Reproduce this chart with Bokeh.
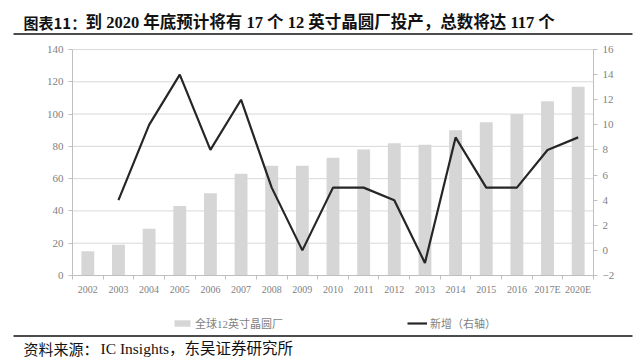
from bokeh.plotting import figure
from bokeh.models import (Range1d, LinearAxis, FixedTicker, Legend, LegendItem,
                          Label, ColumnDataSource, BoxAnnotation)
from bokeh.embed import file_html
from bokeh.resources import INLINE

# ---------------- data ----------------
years = ["2002", "2003", "2004", "2005", "2006", "2007", "2008", "2009", "2010",
         "2011", "2012", "2013", "2014", "2015", "2016", "2017E", "2020E"]
fabs_total = [15, 19, 29, 43, 51, 63, 68, 68, 73, 78, 82, 81, 90, 95, 100, 108, 117]
new_years = years[1:]
new_fabs = [4, 10, 14, 8, 12, 5, 0, 5, 5, 4, -1, 9, 5, 5, 8, 9]
left_ticks = [0, 20, 40, 60, 80, 100, 120, 140]
right_ticks = [-2, 0, 2, 4, 6, 8, 10, 12, 14, 16]
legend_labels = ["全球12英寸晶圆厂", "新增（右轴）"]
title_head = "图表11："
title_body = "到 2020 年底预计将有 17 个 12 英寸晶圆厂投产，总数将达 117 个"
source_head = "资料来源："
source_body = "IC Insights，东吴证券研究所"

SERIF_CJK = "Liberation Serif, Noto Sans CJK SC"
SANS_CJK = "Noto Sans CJK SC"
GRAY_TXT = "#7f7f7f"
AXIS_C = "#bfbfbf"

# ---------------- geometry (page px) ----------------
W, H = 640, 362
PL, PR, PT, PB = 72, 593, 49, 275        # plot area edges
n = len(years)
x_lo, x_hi = -0.5, n - 0.5
sx = (PR - PL) / (x_hi - x_lo)
l_lo, l_hi = left_ticks[0], left_ticks[-1]
r_lo, r_hi = right_ticks[0], right_ticks[-1]
sl = (PB - PT) / (l_hi - l_lo)
sr = (PB - PT) / (r_hi - r_lo)

x_range = Range1d(x_lo - PL / sx, x_hi + (W - PR) / sx)
y_range = Range1d(l_lo - (H - PB) / sl, l_hi + PT / sl)
r_range = Range1d(r_lo - (H - PB) / sr, r_hi + PT / sr)

xs = list(range(n))
new_xs = [years.index(y) for y in new_years]
bar_src = ColumnDataSource(dict(x=xs, top=fabs_total, year=years))
line_src = ColumnDataSource(dict(x=new_xs, y=new_fabs, year=new_years))

p = figure(width=W, height=H, x_range=x_range, y_range=y_range,
           toolbar_location=None, output_backend="svg", min_border=0,
           x_axis_type=None, y_axis_type=None)
p.outline_line_color = None
p.extra_y_ranges = {"right": r_range}

# horizontal grid lines at the left-axis ticks, limited to the plot area
grid_y = left_ticks[1:]
p.segment(x0=[x_lo] * len(grid_y), x1=[x_hi] * len(grid_y), y0=grid_y, y1=grid_y,
          line_color="#d9d9d9", line_width=1, level="underlay")

bars = p.vbar(x="x", top="top", width=0.42, source=bar_src,
              fill_color="#d6d6d6", line_color=None)
line = p.line(x="x", y="y", source=line_src, y_range_name="right",
              line_color="#262626", line_width=2.2)

# axes (fixed at the plot-area edges)
xticker = FixedTicker(ticks=xs, minor_ticks=[i - 0.5 for i in range(n + 1)])
xaxis = LinearAxis(ticker=xticker, fixed_location=l_lo, bounds=(x_lo, x_hi),
                   major_label_overrides={i: y for i, y in enumerate(years)})
xaxis.major_tick_line_color = None
xaxis.minor_tick_in = 0
xaxis.minor_tick_out = 4
xaxis.minor_tick_line_color = AXIS_C
xaxis.axis_line_color = AXIS_C
xaxis.major_label_text_font = "Liberation Serif"
xaxis.major_label_text_font_size = "10px"
xaxis.major_label_text_color = GRAY_TXT
xaxis.major_label_standoff = 2
p.add_layout(xaxis, "below")

laxis = LinearAxis(ticker=FixedTicker(ticks=left_ticks), fixed_location=x_lo,
                   bounds=(l_lo, l_hi))
raxis = LinearAxis(ticker=FixedTicker(ticks=right_ticks), y_range_name="right",
                   fixed_location=x_hi, bounds=(r_lo, r_hi))
for ax in (laxis, raxis):
    ax.axis_line_color = AXIS_C
    ax.major_tick_line_color = AXIS_C
    ax.major_tick_in = 0
    ax.major_tick_out = 4
    ax.minor_tick_line_color = None
    ax.major_label_text_font = "Liberation Serif"
    ax.major_label_text_font_size = "11px"
    ax.major_label_text_color = GRAY_TXT
    ax.major_label_standoff = 5
p.add_layout(laxis, "left")
p.add_layout(raxis, "right")

legend = Legend(items=[LegendItem(label=legend_labels[0], renderers=[bars]),
                       LegendItem(label=legend_labels[1], renderers=[line])],
                location=(172, H - 331), orientation="horizontal",
                glyph_width=20, glyph_height=8, label_standoff=3, spacing=124,
                padding=0, margin=0, border_line_color=None,
                background_fill_alpha=0,
                label_text_font=SERIF_CJK, label_text_font_size="11px",
                label_text_color=GRAY_TXT)
p.add_layout(legend)


def page_label(px, py, text, font, size, style="normal", color="#111111"):
    return Label(x=px, y=H - py, x_units="screen", y_units="screen",
                 text=text, text_font=font, text_font_size=size,
                 text_font_style=style, text_baseline="middle", text_color=color)


def page_rule(py, x0=13, x1=632, th=1.6):
    return BoxAnnotation(left=x0, right=x1, top=H - py + th / 2, bottom=H - py - th / 2,
                         left_units="screen", right_units="screen",
                         top_units="screen", bottom_units="screen",
                         fill_color="#111111", fill_alpha=1, line_color=None)


p.add_layout(page_label(23, 21.5, title_head, SANS_CJK, "15px", "bold"))
p.add_layout(page_label(85, 21.5, title_body, SERIF_CJK, "16.5px", "bold"))
p.add_layout(page_label(23, 348, source_head, SANS_CJK, "15px"))
p.add_layout(page_label(100, 348, source_body, SERIF_CJK, "15.5px"))
p.add_layout(page_rule(33.5))
p.add_layout(page_rule(335.5))

open("out.html", "w").write(file_html(p, INLINE))
